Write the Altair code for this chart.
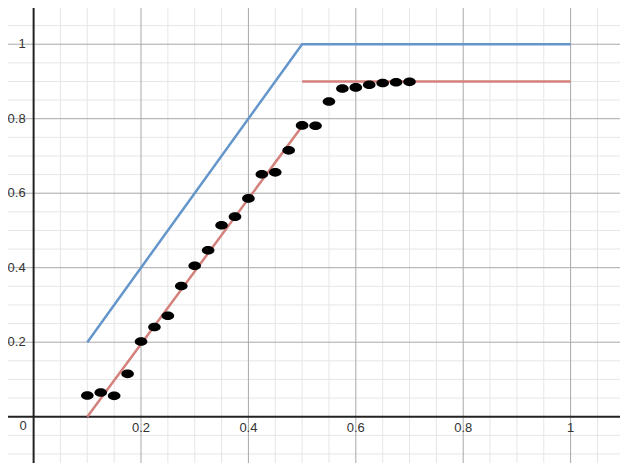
import altair as alt
import pandas as pd

# data points
px = [0.1, 0.125, 0.15, 0.175, 0.2, 0.225, 0.25, 0.275, 0.3, 0.325,
      0.35, 0.375, 0.4, 0.425, 0.45, 0.475, 0.5, 0.525, 0.55, 0.575,
      0.6, 0.625, 0.65, 0.675, 0.7]
py = [0.057, 0.065, 0.056, 0.115, 0.202, 0.241, 0.271, 0.351, 0.405, 0.447,
      0.514, 0.537, 0.586, 0.651, 0.656, 0.715, 0.782, 0.781, 0.846, 0.881,
      0.884, 0.891, 0.896, 0.898, 0.899]

# line segments
blue_x = [0.1, 0.5, 1.0]
blue_y = [0.2, 1.0, 1.0]
red1_x = [0.1, 0.5]
red1_y = [0.0, 0.78]
red2_x = [0.5, 1.0]
red2_y = [0.9, 0.9]

# grid / ticks
minor_x = [-0.05, 0.05, 0.1, 0.15, 0.25, 0.3, 0.35, 0.45, 0.5, 0.55, 0.65, 0.7,
           0.75, 0.85, 0.9, 0.95, 1.05]
major_x = [0.2, 0.4, 0.6, 0.8, 1.0]
minor_y = [-0.1, -0.05, 0.05, 0.1, 0.15, 0.25, 0.3, 0.35, 0.45, 0.5, 0.55, 0.65,
           0.7, 0.75, 0.85, 0.9, 0.95, 1.05]
major_y = [0.2, 0.4, 0.6, 0.8, 1.0]
x_labels = ["0.2", "0.4", "0.6", "0.8", "1"]
y_labels = ["0.2", "0.4", "0.6", "0.8", "1"]

W, H = 612, 455
xs = alt.Scale(domain=[-0.0477, 1.0920], nice=False, zero=False)
ys = alt.Scale(domain=[-0.1243, 1.0972], nice=False, zero=False)

def X(f):
    return alt.X(f, type="quantitative", scale=xs, axis=None)

def Y(f):
    return alt.Y(f, type="quantitative", scale=ys, axis=None)

minor_v = alt.Chart(pd.DataFrame({"x": minor_x})).mark_rule(
    color="#e6e6e6", strokeWidth=1).encode(x=X("x"))
minor_h = alt.Chart(pd.DataFrame({"y": minor_y})).mark_rule(
    color="#e6e6e6", strokeWidth=1).encode(y=Y("y"))
major_v = alt.Chart(pd.DataFrame({"x": major_x})).mark_rule(
    color="#a8a8a8", strokeWidth=1).encode(x=X("x"))
major_h = alt.Chart(pd.DataFrame({"y": major_y})).mark_rule(
    color="#a8a8a8", strokeWidth=1).encode(y=Y("y"))
axis_v = alt.Chart(pd.DataFrame({"x": [0.0]})).mark_rule(
    color="#222222", strokeWidth=2).encode(x=X("x"))
axis_h = alt.Chart(pd.DataFrame({"y": [0.0]})).mark_rule(
    color="#222222", strokeWidth=2).encode(y=Y("y"))

xlab = alt.Chart(pd.DataFrame({"x": major_x, "y": [0.0] * 5, "t": x_labels})).mark_text(
    font="Liberation Sans", fontSize=13, color="#333333", dy=11, baseline="middle",
    align="center").encode(x=X("x"), y=Y("y"), text="t:N")
ylab = alt.Chart(pd.DataFrame({"x": [0.0] * 5, "y": major_y, "t": y_labels})).mark_text(
    font="Liberation Sans", fontSize=13, color="#333333", dx=-8, baseline="middle",
    align="right").encode(x=X("x"), y=Y("y"), text="t:N")
zlab = alt.Chart(pd.DataFrame({"x": [0.0], "y": [0.0], "t": ["0"]})).mark_text(
    font="Liberation Sans", fontSize=13, color="#333333", dx=-7, dy=9, baseline="middle",
    align="right").encode(x=X("x"), y=Y("y"), text="t:N")

lines_df = pd.DataFrame({
    "x": blue_x + red1_x + red2_x,
    "y": blue_y + red1_y + red2_y,
    "s": ["blue"] * 3 + ["red1"] * 2 + ["red2"] * 2,
    "o": list(range(3)) + list(range(2)) + list(range(2)),
})
lines = alt.Chart(lines_df).mark_line(strokeWidth=2.5, clip=True).encode(
    x=X("x"), y=Y("y"), detail="s:N", order="o:Q",
    color=alt.Color("s:N", scale=alt.Scale(domain=["blue", "red1", "red2"],
                                           range=["#6496cc", "#d4807b", "#d4807b"]),
                    legend=None))

ellipse = "M -1 0 A 1 0.68 0 1 0 1 0 A 1 0.68 0 1 0 -1 0 Z"
pts = alt.Chart(pd.DataFrame({"x": px, "y": py})).mark_point(
    shape=ellipse, size=160, filled=True, color="#000000", opacity=1).encode(
    x=X("x"), y=Y("y"))

chart = alt.layer(minor_v, minor_h, major_v, major_h, axis_v, axis_h,
                  lines, pts, xlab, ylab, zlab).properties(
    width=W, height=H, padding=0, autosize=alt.AutoSizeParams(type="none"),
    background="white").configure_view(stroke=None)

chart.save("out.html", embed_options={"renderer": "svg", "actions": False})
